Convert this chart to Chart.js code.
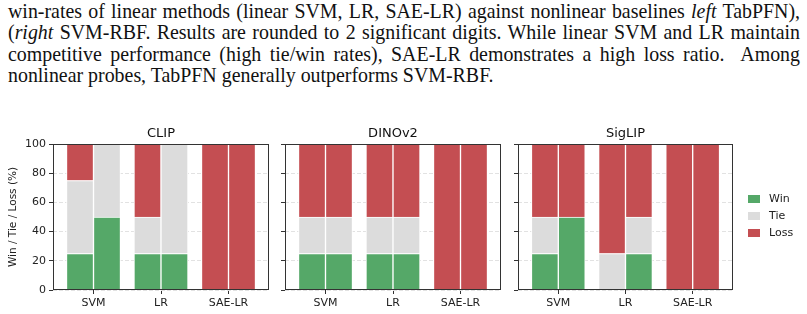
<!DOCTYPE html>
<html>
<head>
<meta charset="utf-8">
<script src="https://cdn.jsdelivr.net/npm/chart.js@4/dist/chart.umd.min.js"></script>
<style>
  body { margin: 0; width: 807px; height: 314px; background: #fff; position: relative; overflow: hidden; }
  .caption { position: absolute; left: 8px; top: 1px; width: 792px; font-family: "Liberation Serif", serif; font-size: 19.9px; line-height: 21.3px; color: #111; }
  .caption div { white-space: nowrap; }
  .caption .j { text-align: justify; text-align-last: justify; white-space: normal; }
  canvas { position: absolute; }
</style>
</head>
<body>
<div class="caption">
  <div class="j">win-rates of linear methods (linear SVM, LR, SAE-LR) against nonlinear baselines <i>left</i> TabPFN),</div>
  <div class="j">(<i>right</i> SVM-RBF. Results are rounded to 2 significant digits. While linear SVM and LR maintain</div>
  <div class="j">competitive performance (high tie/win rates), SAE-LR demonstrates a high loss ratio.&nbsp; Among</div>
  <div>nonlinear probes, TabPFN generally outperforms SVM-RBF.</div>
</div>
<canvas id="clip" width="280" height="204" style="left:0;top:110px;width:280px;height:204px"></canvas>
<canvas id="dino" width="236" height="204" style="left:275px;top:110px;width:236px;height:204px"></canvas>
<canvas id="siglip" width="299" height="204" style="left:508px;top:110px;width:299px;height:204px"></canvas>
<script>
// bars per panel: SVM vs TabPFN, SVM vs SVM-RBF, LR vs TabPFN, LR vs SVM-RBF, SAE-LR vs TabPFN, SAE-LR vs SVM-RBF
const categories = ['SVM', 'LR', 'SAE-LR'];
const outcomes = ['Win', 'Tie', 'Loss'];
const yTicks = [0, 20, 40, 60, 80, 100];

const clipWin = [25, 50, 25, 25, 0, 0];
const clipTie = [50, 50, 25, 75, 0, 0];
const clipLoss = [25, 0, 50, 0, 100, 100];

const dinoWin = [25, 25, 25, 25, 0, 0];
const dinoTie = [25, 25, 25, 25, 0, 0];
const dinoLoss = [50, 50, 50, 50, 100, 100];

const siglipWin = [25, 50, 0, 25, 0, 0];
const siglipTie = [25, 0, 25, 25, 0, 0];
const siglipLoss = [50, 50, 75, 50, 100, 100];

const colors = ['#55a868', '#dcdcdc', '#c44e52'];

Chart.defaults.font.family = 'DejaVu Sans';
Chart.defaults.color = '#222';
Chart.defaults.animation = false;

// left bar of each pair is against TabPFN, right one against SVM-RBF
function toPoints(vals) {
    return vals.map((v, i) => ({ x: Math.floor(i / 2) + (i % 2 === 0 ? -0.2 : 0.2), y: v }));
}

const frame = {
    id: 'frame',
    afterDraw(chart) {
        const a = chart.chartArea;
        const ctx = chart.ctx;
        ctx.save();
        ctx.strokeStyle = '#333';
        ctx.lineWidth = 1;
        ctx.strokeRect(Math.round(a.left) + 0.5, Math.round(a.top) + 0.5,
            Math.round(a.right) - Math.round(a.left) - 1, Math.round(a.bottom) - Math.round(a.top) - 1);
        ctx.restore();
    }
};

const sideLegend = {
    id: 'sideLegend',
    afterDraw(chart) {
        const ctx = chart.ctx;
        const x0 = chart.chartArea.right + 15;
        ctx.save();
        ctx.font = '11px "DejaVu Sans"';
        ctx.textBaseline = 'middle';
        chart.data.datasets.forEach((ds, i) => {
            const y = 89 + i * 17;
            ctx.fillStyle = ds.backgroundColor;
            ctx.fillRect(x0, y - 4, 12, 8);
            ctx.fillStyle = '#222';
            ctx.fillText(ds.label, x0 + 21, y);
        });
        ctx.restore();
    }
};

function makePanel(id, title, win, tie, loss, showY, yWidth, padRight, withLegend) {
    const series = [win, tie, loss];
    new Chart(document.getElementById(id), {
        type: 'bar',
        data: {
            datasets: outcomes.map((name, k) => ({
                label: name,
                data: toPoints(series[k]),
                backgroundColor: colors[k],
                borderColor: '#fff',
                borderWidth: 1,
                borderSkipped: 'start',
                barPercentage: 1,
                categoryPercentage: 1
            }))
        },
        options: {
            responsive: false,
            layout: { padding: { right: padRight } },
            plugins: {
                legend: { display: false },
                tooltip: { enabled: false },
                title: {
                    display: true,
                    fullSize: false,
                    text: title,
                    font: { size: 13, weight: 'normal' },
                    color: '#111',
                    padding: { top: 16, bottom: 2.4 }
                }
            },
            scales: {
                x: {
                    type: 'linear',
                    stacked: true,
                    offset: false,
                    min: -0.6,
                    max: 2.6,
                    afterBuildTicks: s => { s.ticks = categories.map((c, i) => ({ value: i })); },
                    afterFit: s => { s.height = 24; },
                    ticks: {
                        callback: v => categories[v],
                        font: { size: 11 },
                        padding: 3,
                        maxRotation: 0,
                        autoSkip: false
                    },
                    grid: { drawOnChartArea: false, offset: false, tickLength: 4, tickColor: '#333' },
                    border: { display: false }
                },
                y: {
                    stacked: true,
                    min: 0,
                    max: 100,
                    afterBuildTicks: s => { s.ticks = yTicks.map(v => ({ value: v })); },
                    afterFit: s => { s.width = yWidth; },
                    ticks: { display: showY, font: { size: 11 }, padding: 3 },
                    grid: { color: '#e2e2e2', lineWidth: 1, tickLength: 4, tickColor: '#333' },
                    border: { display: false, dash: [4, 2] },
                    title: {
                        display: showY,
                        text: 'Win / Tie / Loss (%)',
                        font: { size: 10.5 },
                        padding: { top: 7, bottom: 0 }
                    }
                }
            }
        },
        plugins: withLegend ? [frame, sideLegend] : [frame]
    });
}

makePanel('clip', 'CLIP', clipWin, clipTie, clipLoss, true, 53, 11, false);
makePanel('dino', 'DINOv2', dinoWin, dinoTie, dinoLoss, false, 10, 10, false);
makePanel('siglip', 'SigLIP', siglipWin, siglipTie, siglipLoss, false, 10, 74, true);
</script>
</body>
</html>
